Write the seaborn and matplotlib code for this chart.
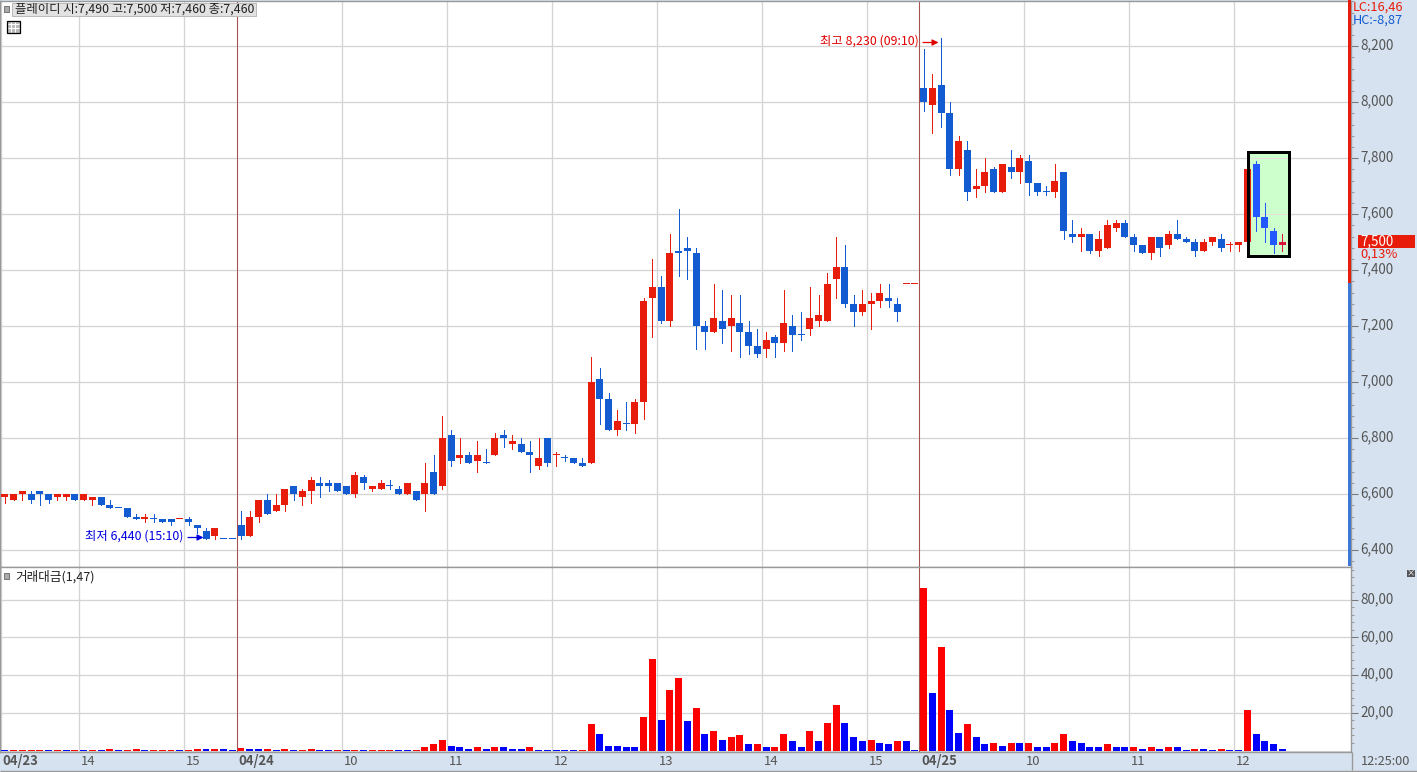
#!/usr/bin/env python3
import numpy as np
import pandas as pd
import matplotlib
matplotlib.use("Agg")
import matplotlib.pyplot as plt
import seaborn as sns
from matplotlib.patches import Rectangle
from matplotlib.transforms import ScaledTranslation

# ===== DATA (5 minute candles, 04/23 15:00 -> 04/25 12:25) =====
OPEN = [
    6590, 6580, 6600, 6600, 6610, 6600, 6590, 6590, 6600, 6580,
    6580, 6590, 6560, 6550, 6550, 6520, 6510, 6510, 6510, 6510,
    6510, 6510, 6490, 6470, 6450, 6440, 6440, 6490, 6450, 6520,
    6580, 6540, 6560, 6630, 6590, 6610, 6640, 6640, 6640, 6630,
    6600, 6660, 6620, 6620, 6630, 6620, 6600, 6610, 6600, 6680,
    6630, 6810, 6730, 6740, 6720, 6710, 6740, 6810, 6780, 6780,
    6750, 6700, 6800, 6740, 6730, 6730, 6710, 6710, 7010, 6940,
    6830, 6850, 6850, 6930, 7300, 7340, 7220, 7470, 7480, 7460,
    7200, 7180, 7220, 7200, 7210, 7180, 7130, 7120, 7160, 7140,
    7200, 7170, 7190, 7220, 7220, 7370, 7410, 7280, 7250, 7280,
    7290, 7300, 7280, 7350, 7350, 8050, 7990, 8060, 7960, 7760,
    7830, 7690, 7700, 7760, 7680, 7770, 7750, 7790, 7710, 7680,
    7680, 7750, 7530, 7520, 7530, 7470, 7480, 7550, 7570, 7520,
    7490, 7460, 7520, 7490, 7530, 7510, 7500, 7470, 7500, 7510,
    7490, 7490, 7500, 7780, 7590, 7540, 7490,
]
HIGH = [
    6600, 6600, 6610, 6610, 6610, 6600, 6600, 6600, 6600, 6600,
    6590, 6590, 6580, 6550, 6550, 6530, 6530, 6530, 6510, 6510,
    6510, 6520, 6490, 6480, 6480, 6440, 6440, 6540, 6540, 6580,
    6600, 6600, 6620, 6630, 6620, 6660, 6660, 6650, 6640, 6630,
    6680, 6670, 6630, 6650, 6650, 6630, 6640, 6610, 6710, 6740,
    6880, 6830, 6800, 6750, 6790, 6760, 6820, 6830, 6810, 6800,
    6790, 6800, 6800, 6750, 6740, 6730, 6730, 7090, 7050, 6960,
    6900, 6930, 6940, 7300, 7440, 7380, 7530, 7620, 7520, 7480,
    7220, 7350, 7330, 7310, 7310, 7220, 7190, 7180, 7170, 7330,
    7240, 7250, 7340, 7310, 7390, 7520, 7490, 7310, 7330, 7320,
    7350, 7350, 7300, 7350, 7350, 8190, 8100, 8230, 8000, 7880,
    7860, 7760, 7800, 7770, 7780, 7830, 7810, 7810, 7710, 7700,
    7780, 7750, 7580, 7550, 7530, 7540, 7580, 7580, 7580, 7530,
    7490, 7520, 7520, 7540, 7580, 7520, 7510, 7510, 7520, 7530,
    7500, 7500, 7760, 7790, 7640, 7550, 7530,
]
LOW = [
    6570, 6580, 6580, 6570, 6560, 6570, 6580, 6580, 6580, 6580,
    6560, 6560, 6550, 6550, 6520, 6510, 6500, 6500, 6500, 6490,
    6510, 6490, 6460, 6440, 6440, 6440, 6440, 6440, 6450, 6500,
    6530, 6540, 6540, 6580, 6560, 6570, 6590, 6610, 6610, 6600,
    6590, 6620, 6610, 6620, 6620, 6600, 6600, 6580, 6540, 6600,
    6620, 6700, 6710, 6710, 6680, 6710, 6740, 6770, 6760, 6750,
    6680, 6690, 6700, 6700, 6720, 6710, 6700, 6710, 6850, 6830,
    6810, 6830, 6820, 6870, 7160, 7210, 7200, 7380, 7370, 7120,
    7120, 7180, 7140, 7110, 7090, 7100, 7090, 7090, 7090, 7110,
    7110, 7150, 7170, 7200, 7220, 7300, 7270, 7200, 7240, 7190,
    7270, 7270, 7220, 7350, 7350, 7970, 7890, 7910, 7740, 7740,
    7650, 7660, 7680, 7680, 7680, 7730, 7710, 7670, 7670, 7670,
    7660, 7510, 7500, 7470, 7460, 7450, 7480, 7540, 7520, 7470,
    7460, 7440, 7450, 7480, 7510, 7500, 7450, 7470, 7490, 7470,
    7470, 7470, 7500, 7540, 7500, 7460, 7470,
]
CLOSE = [
    6600, 6600, 6610, 6580, 6600, 6580, 6600, 6600, 6580, 6600,
    6590, 6560, 6550, 6550, 6520, 6510, 6520, 6510, 6500, 6500,
    6510, 6500, 6480, 6440, 6480, 6440, 6440, 6450, 6520, 6580,
    6530, 6560, 6620, 6600, 6610, 6650, 6630, 6630, 6610, 6600,
    6670, 6640, 6630, 6640, 6630, 6600, 6640, 6580, 6640, 6600,
    6800, 6720, 6740, 6710, 6740, 6710, 6800, 6800, 6790, 6750,
    6740, 6730, 6710, 6740, 6730, 6710, 6700, 7000, 6940, 6830,
    6860, 6850, 6930, 7290, 7340, 7220, 7460, 7460, 7470, 7200,
    7180, 7230, 7190, 7230, 7180, 7130, 7100, 7150, 7140, 7210,
    7170, 7170, 7230, 7240, 7350, 7410, 7280, 7250, 7280, 7290,
    7320, 7290, 7250, 7350, 7350, 8000, 8050, 7960, 7760, 7860,
    7680, 7700, 7750, 7680, 7780, 7750, 7800, 7710, 7680, 7680,
    7720, 7540, 7520, 7530, 7470, 7510, 7560, 7570, 7520, 7490,
    7460, 7520, 7480, 7530, 7510, 7500, 7470, 7500, 7520, 7480,
    7490, 7500, 7760, 7590, 7550, 7490, 7500,
]
DOJI_RED = [20, 63, 103, 104, 140]
BOXED = [143, 144, 145, 146]

VOLUME = [
    0.5, 0.5, 0.5, 0.5, 0.5, 0.5, 0.5, 0.5, 0.5, 0.5,
    0.5, 0.5, 1.0, 0.5, 0.5, 1.0, 0.5, 0.5, 0.5, 0.5,
    0.5, 0.5, 1.0, 1.0, 1.0, 1.0, 0.5, 1.5, 1.0, 1.0,
    1.0, 0.5, 1.0, 0.5, 0.5, 1.0, 0.5, 0.5, 0.5, 0.5,
    0.5, 0.5, 0.5, 0.5, 0.5, 0.5, 0.5, 0.5, 1.6, 3.2,
    5.8, 2.6, 1.6, 1.0, 1.6, 1.0, 2.1, 2.1, 1.0, 1.0,
    1.6, 0.5, 0.5, 0.5, 0.5, 0.5, 0.5, 14.3, 9.0, 2.6,
    2.6, 2.1, 1.6, 18.0, 48.8, 16.4, 32.3, 38.2, 15.9, 22.3,
    8.5, 10.1, 5.8, 6.9, 8.0, 3.2, 3.7, 1.6, 2.1, 9.0,
    4.8, 2.1, 10.6, 4.8, 14.8, 24.4, 14.8, 7.4, 5.3, 5.8,
    4.2, 3.7, 5.3, 5.3, 0.5, 86.4, 30.7, 55.1, 21.7, 9.5,
    13.8, 6.9, 3.7, 4.2, 2.6, 4.2, 4.2, 4.2, 2.1, 1.6,
    4.2, 8.5, 4.8, 4.2, 2.1, 2.1, 3.2, 2.1, 1.6, 2.1,
    1.0, 2.1, 1.0, 1.6, 1.6, 0.5, 1.0, 1.0, 0.5, 1.0,
    0.5, 0.5, 21.7, 9.0, 4.8, 3.2, 1.0,
]
VOLUME_DIR = list(
    "brrrrbrbrb" "rbrbrrbrrr" "brrbrbbrbb"
    "rbrbrrbbrb" "rbrrrbbrrr"
    "rbbbrbrbbb" "rbbbbbrrbb"
    "bbbrrbrrbr" "brbrrbrbrr"
    "bbrbrrbbbr" "bbrbbrbrbb"
    "rbbrbrbrbb" "rrbbbbrbbr"
    "brbrbbrbbr" "bbrbbbb"
)

HOUR_TICKS = [0, 9, 21, 27, 39, 51, 63, 75, 87, 99, 105, 117, 129, 141]
HOUR_LABELS = ["04/23", "14", "15", "04/24", "10", "11", "12", "13", "14", "15",
               "04/25", "10", "11", "12"]
DAY_TICKS = [27, 105]
PRICE_TICKS = [6400, 6600, 6800, 7000, 7200, 7400, 7600, 7800, 8000, 8200]
PRICE_LABELS = ["6,400", "6,600", "6,800", "7,000", "7,200", "7,400", "7,600",
                "7,800", "8,000", "8,200"]
VOLUME_TICKS = [20, 40, 60, 80]
VOLUME_LABELS = ["20,00", "40,00", "60,00", "80,00"]

HEADER = "플레이디 시:7,490 고:7,500 저:7,460 종:7,460"
HIGH_NOTE = "최고 8,230 (09:10)"
LOW_NOTE = "최저 6,440 (15:10)"
VOLUME_TITLE = "거래대금(1,47)"

# ===== COLOURS =====
RED = "#E81C0A"
BLUE = "#125BD0"
PANEL = "#D6E2F0"
GRID = "#D4D4D4"
EDGE = "#999999"
TEXT = "#555555"
DAY_LINE = "#A85050"

W, H = 1417, 772
PLOT_RIGHT = 1351
PRICE_TOP, PRICE_BOTTOM = 1, 567
VOL_TOP, VOL_BOTTOM = 567, 752
TICK_SHIFT = 0.48

sns.set_theme(style="white")
plt.rcParams["font.family"] = ["Noto Sans CJK KR", "DejaVu Sans"]
plt.rcParams["axes.unicode_minus"] = False

df = pd.DataFrame({"i": np.arange(len(OPEN)), "open": OPEN, "high": HIGH,
                   "low": LOW, "close": CLOSE, "volume": VOLUME,
                   "vdir": VOLUME_DIR})


def candle_colour(row):
    if row["i"] == 146:
        return "#D8143C"
    if row["i"] in BOXED:
        return "#2258FF"
    if row["close"] > row["open"] or row["i"] in DOJI_RED:
        return RED
    return BLUE


df["colour"] = df.apply(candle_colour, axis=1)

fig = plt.figure(figsize=(W / 100, H / 100), dpi=100, facecolor=PANEL)


def px_axes(left, top, right, bottom):
    return fig.add_axes([left / W, 1 - bottom / H, (right - left) / W, (bottom - top) / H])


ax_price = px_axes(0, PRICE_TOP, PLOT_RIGHT, PRICE_BOTTOM)
ax_vol = px_axes(0, VOL_TOP, PLOT_RIGHT, VOL_BOTTOM)

# x scale: candle i sits at 4.75 + 8.75 * i pixels
x_left = -4.75 / 8.75
x_right = (PLOT_RIGHT - 4.75) / 8.75
tick_pos = [t - TICK_SHIFT for t in HOUR_TICKS]

# ===== VOLUME PANEL =====
sns.barplot(data=df, x="i", y="volume", hue="vdir", native_scale=True,
            palette={"r": "#FF0000", "b": "#0000FF"}, dodge=False, width=0.8,
            saturation=1, legend=False, errorbar=None, linewidth=0,
            antialiased=False, ax=ax_vol, zorder=3)
ax_vol.set_ylim((750.5 - VOL_BOTTOM) / 1.885, (750.5 - VOL_TOP) / 1.885)
ax_vol.set_yticks(VOLUME_TICKS)
ax_vol.set_yticklabels(VOLUME_LABELS)
ax_vol.set_yticks(np.arange(4, 97, 4), minor=True)
ax_vol.axhline(0, color=GRID, lw=0.72, zorder=1)

# ===== PRICE PANEL =====
ax_price.set_ylim(8200 - (PRICE_BOTTOM - 46.3) / 0.28, 8200 - (PRICE_TOP - 46.3) / 0.28)
ax_price.set_yticks(PRICE_TICKS)
ax_price.set_yticklabels(PRICE_LABELS)
ax_price.set_yticks(np.arange(6360, 8361, 40), minor=True)

# highlight box around the last candles
box_x, box_w = 142.05, 4.77
box_low, box_high = 7450, 7824
ax_price.add_patch(Rectangle((box_x, box_low), box_w, box_high - box_low,
                             fc="#CCFFCC", ec="none", zorder=1.5))
ax_price.hlines([7600, 7800], box_x, box_x + box_w, color="#E6DCDC", lw=0.72, zorder=1.6)

ax_price.vlines(df["i"], df["low"], df["high"], colors=df["colour"], lw=0.72,
                antialiased=False, zorder=2)
body_low = df[["open", "close"]].min(axis=1)
body_h = (df["open"] - df["close"]).abs().clip(lower=4)
ax_price.bar(df["i"], body_h, bottom=body_low, width=0.8, color=df["colour"],
             linewidth=0, antialiased=False, zorder=3)
ax_price.add_patch(Rectangle((box_x, box_low), box_w, box_high - box_low,
                             fc="none", ec="black", lw=2.16, zorder=4))

# ===== SHARED AXIS STYLE =====
label_up = ScaledTranslation(0, 2 / 100, fig.dpi_scale_trans)
for ax in (ax_price, ax_vol):
    ax.set_xlim(x_left, x_right)
    ax.set_facecolor("white")
    ax.set_xlabel("")
    ax.set_ylabel("")
    ax.set_xticks(tick_pos)
    ax.grid(True, axis="both", color=GRID, lw=0.95, zorder=0)
    ax.set_axisbelow(True)
    ax.yaxis.tick_right()
    ax.tick_params(axis="y", which="major", length=5, width=0.75, color="#777777",
                   labelcolor=TEXT, labelsize=9.7, pad=2, right=True, left=False)
    ax.tick_params(axis="y", which="minor", length=2.4, width=0.75, color=EDGE,
                   right=True, left=False)
    for label in ax.get_yticklabels():
        label.set_transform(label.get_transform() + label_up)
    for day in DAY_TICKS:
        ax.vlines(day - TICK_SHIFT, *ax.get_ylim(), colors=DAY_LINE, lw=0.72,
                  antialiased=False, zorder=2.5)
    for name, spine in ax.spines.items():
        spine.set_color(EDGE)
        spine.set_linewidth(1.0)

ax_price.tick_params(axis="x", length=0, labelbottom=False)
ax_vol.tick_params(axis="x", length=12.5, width=0.9, color=EDGE, labelbottom=False)
for pos, label in zip(tick_pos, HOUR_LABELS):
    bold = "/" in label
    x = x_left + 0.3 if pos < 0 else pos + 0.2
    ax_vol.text(x, -0.05, label, transform=ax_vol.get_xaxis_transform(), color=TEXT,
                fontsize=9.4, fontweight="bold" if bold else "normal", va="center", ha="left")

# ===== OVERLAY IN PIXELS (labels, icons) =====
over = fig.add_axes([0, 0, 1, 1], zorder=10)
over.set_xlim(0, W)
over.set_ylim(H, 0)
over.axis("off")
over.patch.set_alpha(0)


def box(x0, y0, x1, y1, fc, ec="none", lw=0.75):
    over.add_patch(Rectangle((x0, y0), x1 - x0, y1 - y0, fc=fc, ec=ec, lw=lw))


# LC / HC bar
box(1348, 0, 1351, 283, RED)
box(1348, 283, 1351, 566, "#3C78D8")
# header
box(11.5, 2.5, 256, 16, "#E2E2E2", ec="#BBBBBB")
box(4, 6, 9, 12, "#AAAAAA", ec="#777777")
over.text(15, 9, HEADER, color="#222222", fontsize=8.9, va="center", ha="left")
# table icon
box(6.5, 20.5, 20, 33, "#BBBBBB", ec="black", lw=0.9)
over.hlines([24, 28], 8, 19, color="white", lw=0.7)
over.vlines([11, 15], 22, 32, color="white", lw=0.7)
# volume title
box(4, 573, 9, 579, "#AAAAAA", ec="#777777")
over.text(15, 576.5, VOLUME_TITLE, color="#222222", fontsize=9.1, va="center", ha="left")
# close icon
box(1407, 570, 1415, 577, "#555555")
over.text(1411, 573.3, "×", color="white", fontsize=6, va="center", ha="center")
# high / low notes
over.text(820, 41.5, HIGH_NOTE, color="#E00000", fontsize=8.9, va="center", ha="left")
over.annotate("", xy=(938.5, 42.5), xytext=(923, 42.5),
              arrowprops=dict(arrowstyle="-|>", color="#E00000", lw=0.9, mutation_scale=9,
                              shrinkA=0, shrinkB=0))
over.text(85, 536.5, LOW_NOTE, color="#0000DD", fontsize=8.9, va="center", ha="left")
over.annotate("", xy=(203.5, 537.5), xytext=(188, 537.5),
              arrowprops=dict(arrowstyle="-|>", color="#0000DD", lw=0.9, mutation_scale=9,
                              shrinkA=0, shrinkB=0))
# LC / HC labels
over.text(1353, 7, "LC:16,46", color="#E81C0A", fontsize=9.2, va="center", ha="left")
over.text(1353, 20, "HC:-8,87", color=BLUE, fontsize=9.2, va="center", ha="left")
# current price tag
box(1358, 235, 1415, 248, RED)
over.text(1360, 241, "7,500", color="white", fontsize=9.7, va="center", ha="left")
over.text(1360, 254, "0,13%", color=RED, fontsize=9.4, va="center", ha="left")
# clock
over.text(1361, 761.5, "12:25:00", color=TEXT, fontsize=9.2, va="center", ha="left")
over.hlines([770.5], 0, W, color=EDGE, lw=1.0)
over.vlines([1352], 752, 770, color=EDGE, lw=1.0)

fig.savefig("out.png", dpi=100, facecolor=fig.get_facecolor())
